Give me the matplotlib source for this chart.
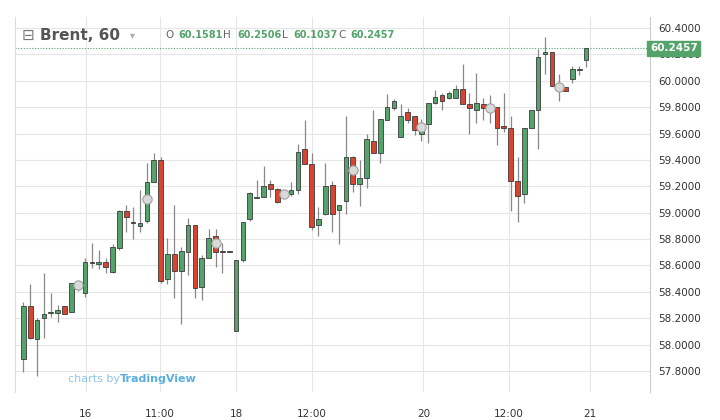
import matplotlib

matplotlib.use("Agg")
import matplotlib.pyplot as plt  # noqa: E402
from matplotlib.patches import Rectangle  # noqa: E402

# hourly Brent candles
opens = [57.89, 58.29, 58.04, 58.20, 58.24, 58.24, 58.29, 58.25, 58.43, 58.39,
         58.63, 58.61, 58.63, 58.55, 58.73, 59.01, 58.93, 58.90, 58.94, 59.23,
         59.40, 58.50, 58.69, 58.56, 58.70, 58.91, 58.44, 58.66, 58.82, 58.71,
         58.70, 58.10, 58.64, 58.95, 59.11, 59.12, 59.22, 59.18, 59.13, 59.14,
         59.17, 59.48, 59.37, 58.91, 58.99, 59.21, 59.02, 59.09, 59.42, 59.22,
         59.26, 59.54, 59.45, 59.70, 59.79, 59.57, 59.76, 59.73, 59.60, 59.67,
         59.83, 59.89, 59.87, 59.87, 59.94, 59.82, 59.78, 59.82, 59.78, 59.80,
         59.66, 59.64, 59.24, 59.14, 59.64, 59.78, 60.20, 60.22, 59.97, 59.95,
         60.01, 60.09, 60.1581]
highs = [58.32, 58.46, 58.20, 58.54, 58.39, 58.30, 58.29, 58.47, 58.47, 58.66,
         58.77, 58.72, 58.66, 58.76, 59.02, 59.06, 59.04, 59.17, 59.38, 59.45,
         59.42, 58.81, 59.06, 58.74, 58.96, 58.91, 58.68, 58.88, 58.88, 58.77,
         58.71, 58.64, 58.93, 59.16, 59.25, 59.35, 59.25, 59.19, 59.17, 59.23,
         59.52, 59.70, 59.45, 59.04, 59.38, 59.24, 59.06, 59.73, 59.43, 59.40,
         59.60, 59.78, 59.71, 59.90, 59.86, 59.82, 59.79, 59.73, 59.71, 59.83,
         59.93, 59.91, 59.92, 59.97, 60.13, 59.91, 60.06, 59.87, 59.89, 59.80,
         59.91, 59.73, 59.42, 59.64, 59.78, 60.24, 60.33, 60.22, 60.05, 59.95,
         60.11, 60.11, 60.2506]
lows = [57.79, 58.04, 57.76, 58.05, 58.21, 58.17, 58.23, 58.25, 58.41, 58.36,
        58.58, 58.57, 58.54, 58.54, 58.72, 58.85, 58.80, 58.85, 58.92, 59.23,
        58.47, 58.46, 58.35, 58.16, 58.53, 58.35, 58.34, 58.66, 58.59, 58.54,
        58.70, 58.10, 58.63, 58.94, 59.11, 59.12, 59.12, 59.07, 59.12, 59.13,
        59.14, 59.37, 58.87, 58.82, 58.98, 58.85, 58.76, 58.99, 59.16, 59.05,
        59.19, 59.45, 59.38, 59.70, 59.78, 59.57, 59.68, 59.59, 59.54, 59.53,
        59.82, 59.78, 59.86, 59.87, 59.82, 59.60, 59.68, 59.70, 59.68, 59.51,
        59.61, 59.01, 58.93, 59.07, 59.64, 59.48, 60.05, 59.96, 59.85, 59.92,
        59.98, 60.04, 60.1037]
closes = [58.29, 58.05, 58.19, 58.23, 58.25, 58.26, 58.23, 58.47, 58.46, 58.63,
          58.62, 58.63, 58.59, 58.74, 59.01, 58.97, 58.92, 58.92, 59.23, 59.40,
          58.48, 58.69, 58.56, 58.71, 58.91, 58.43, 58.66, 58.81, 58.70, 58.70,
          58.71, 58.64, 58.93, 59.15, 59.12, 59.20, 59.18, 59.08, 59.16, 59.17,
          59.46, 59.37, 58.89, 58.95, 59.20, 58.99, 59.06, 59.42, 59.22, 59.26,
          59.56, 59.45, 59.71, 59.80, 59.85, 59.73, 59.70, 59.63, 59.67, 59.83,
          59.88, 59.85, 59.91, 59.94, 59.82, 59.79, 59.83, 59.79, 59.80, 59.64,
          59.64, 59.24, 59.13, 59.64, 59.78, 60.18, 60.22, 59.96, 59.95, 59.92,
          60.09, 60.08, 60.2457]

# event markers (candle index, price)
marker_idx = [8, 18, 28, 38, 48, 58, 68, 78]
marker_price = [58.45, 59.10, 58.77, 59.14, 59.32, 59.65, 59.79, 59.95]

x_tick_pos = [9.1, 19.9, 31.0, 42.0, 58.3, 70.7, 82.5]
x_tick_labels = ["16", "11:00", "18", "12:00", "20", "12:00", "21"]
y_ticks = [57.8 + 0.2 * k for k in range(14)]

UP = "#53a36b"
DOWN = "#d7442f"
EDGE = "#3b3b3b"

fig = plt.figure(figsize=(7.2, 4.2), dpi=100)
ax = fig.add_axes([15 / 720, 28 / 420, 635 / 720, 375 / 420])
ax.set_xlim(-1.21, 91.3)
ax.set_ylim(57.641, 60.483)

for i, (o, h, l, c) in enumerate(zip(opens, highs, lows, closes)):
    color = UP if c >= o else DOWN
    ax.vlines(i, l, h, color="#888888", lw=0.9, zorder=2)
    bottom = min(o, c)
    height = max(abs(c - o), 0.006)
    ax.add_patch(Rectangle((i - 0.34, bottom), 0.68, height, facecolor=color,
                           edgecolor=EDGE, lw=0.6, zorder=3))

ax.scatter(marker_idx, marker_price, s=45, color="#d9d9d9",
           edgecolor="#a0a0a0", lw=0.8, zorder=4)

last = closes[-1]
ax.axhline(last, color=UP, lw=0.8, ls=(0, (1, 1.5)), zorder=1)

ax.set_yticks(y_ticks)
ax.set_xticks(x_tick_pos)
ax.grid(True, color="#e6e6e6", lw=0.8)
ax.set_axisbelow(True)
ax.yaxis.tick_right()
ax.set_yticklabels([f"{v:.4f}" for v in y_ticks], fontsize=7.5, color="#333333")
ax.set_xticklabels(x_tick_labels, fontsize=7.5, color="#333333")
ax.tick_params(length=0, pad=12)
ax.tick_params(axis="y", pad=6)
for side in ["top", "bottom"]:
    ax.spines[side].set_visible(False)
ax.spines["right"].set_color("#cccccc")
ax.spines["left"].set_color("#dddddd")

ax.text(1.0, last, f"{last:.4f}", transform=ax.get_yaxis_transform(),
        ha="left", va="center", fontsize=7.5, color="white", fontweight="bold",
        bbox=dict(boxstyle="square,pad=0.25", facecolor=UP, edgecolor=UP))

# header
hy = 1 - 35 / 420
fig.text(22 / 720, hy, "\u229f", fontsize=11, color="#777777", va="center")
fig.text(40 / 720, hy, "Brent, 60", fontsize=11, fontweight="bold",
         color="#555555", va="center")
fig.text(130 / 720, hy, "\u25be", fontsize=7, color="#aaaaaa", va="center")
for lbl, val, lx, vx in [("O", "60.1581", 165, 178), ("H", "60.2506", 223, 237),
                         ("L", "60.1037", 282, 293), ("C", "60.2457", 338, 350)]:
    fig.text(lx / 720, hy, lbl, fontsize=7.5, color="#666666", va="center")
    fig.text(vx / 720, hy, val, fontsize=7, color=UP, fontweight="bold",
             va="center")

fig.text(68 / 720, 1 - 379 / 420, "charts by", fontsize=8, color="#8fc3e6",
         va="center")
fig.text(120 / 720, 1 - 379 / 420, "TradingView", fontsize=8, color="#5aaee0",
         fontweight="bold", va="center")

fig.savefig("out.png", dpi=100)
